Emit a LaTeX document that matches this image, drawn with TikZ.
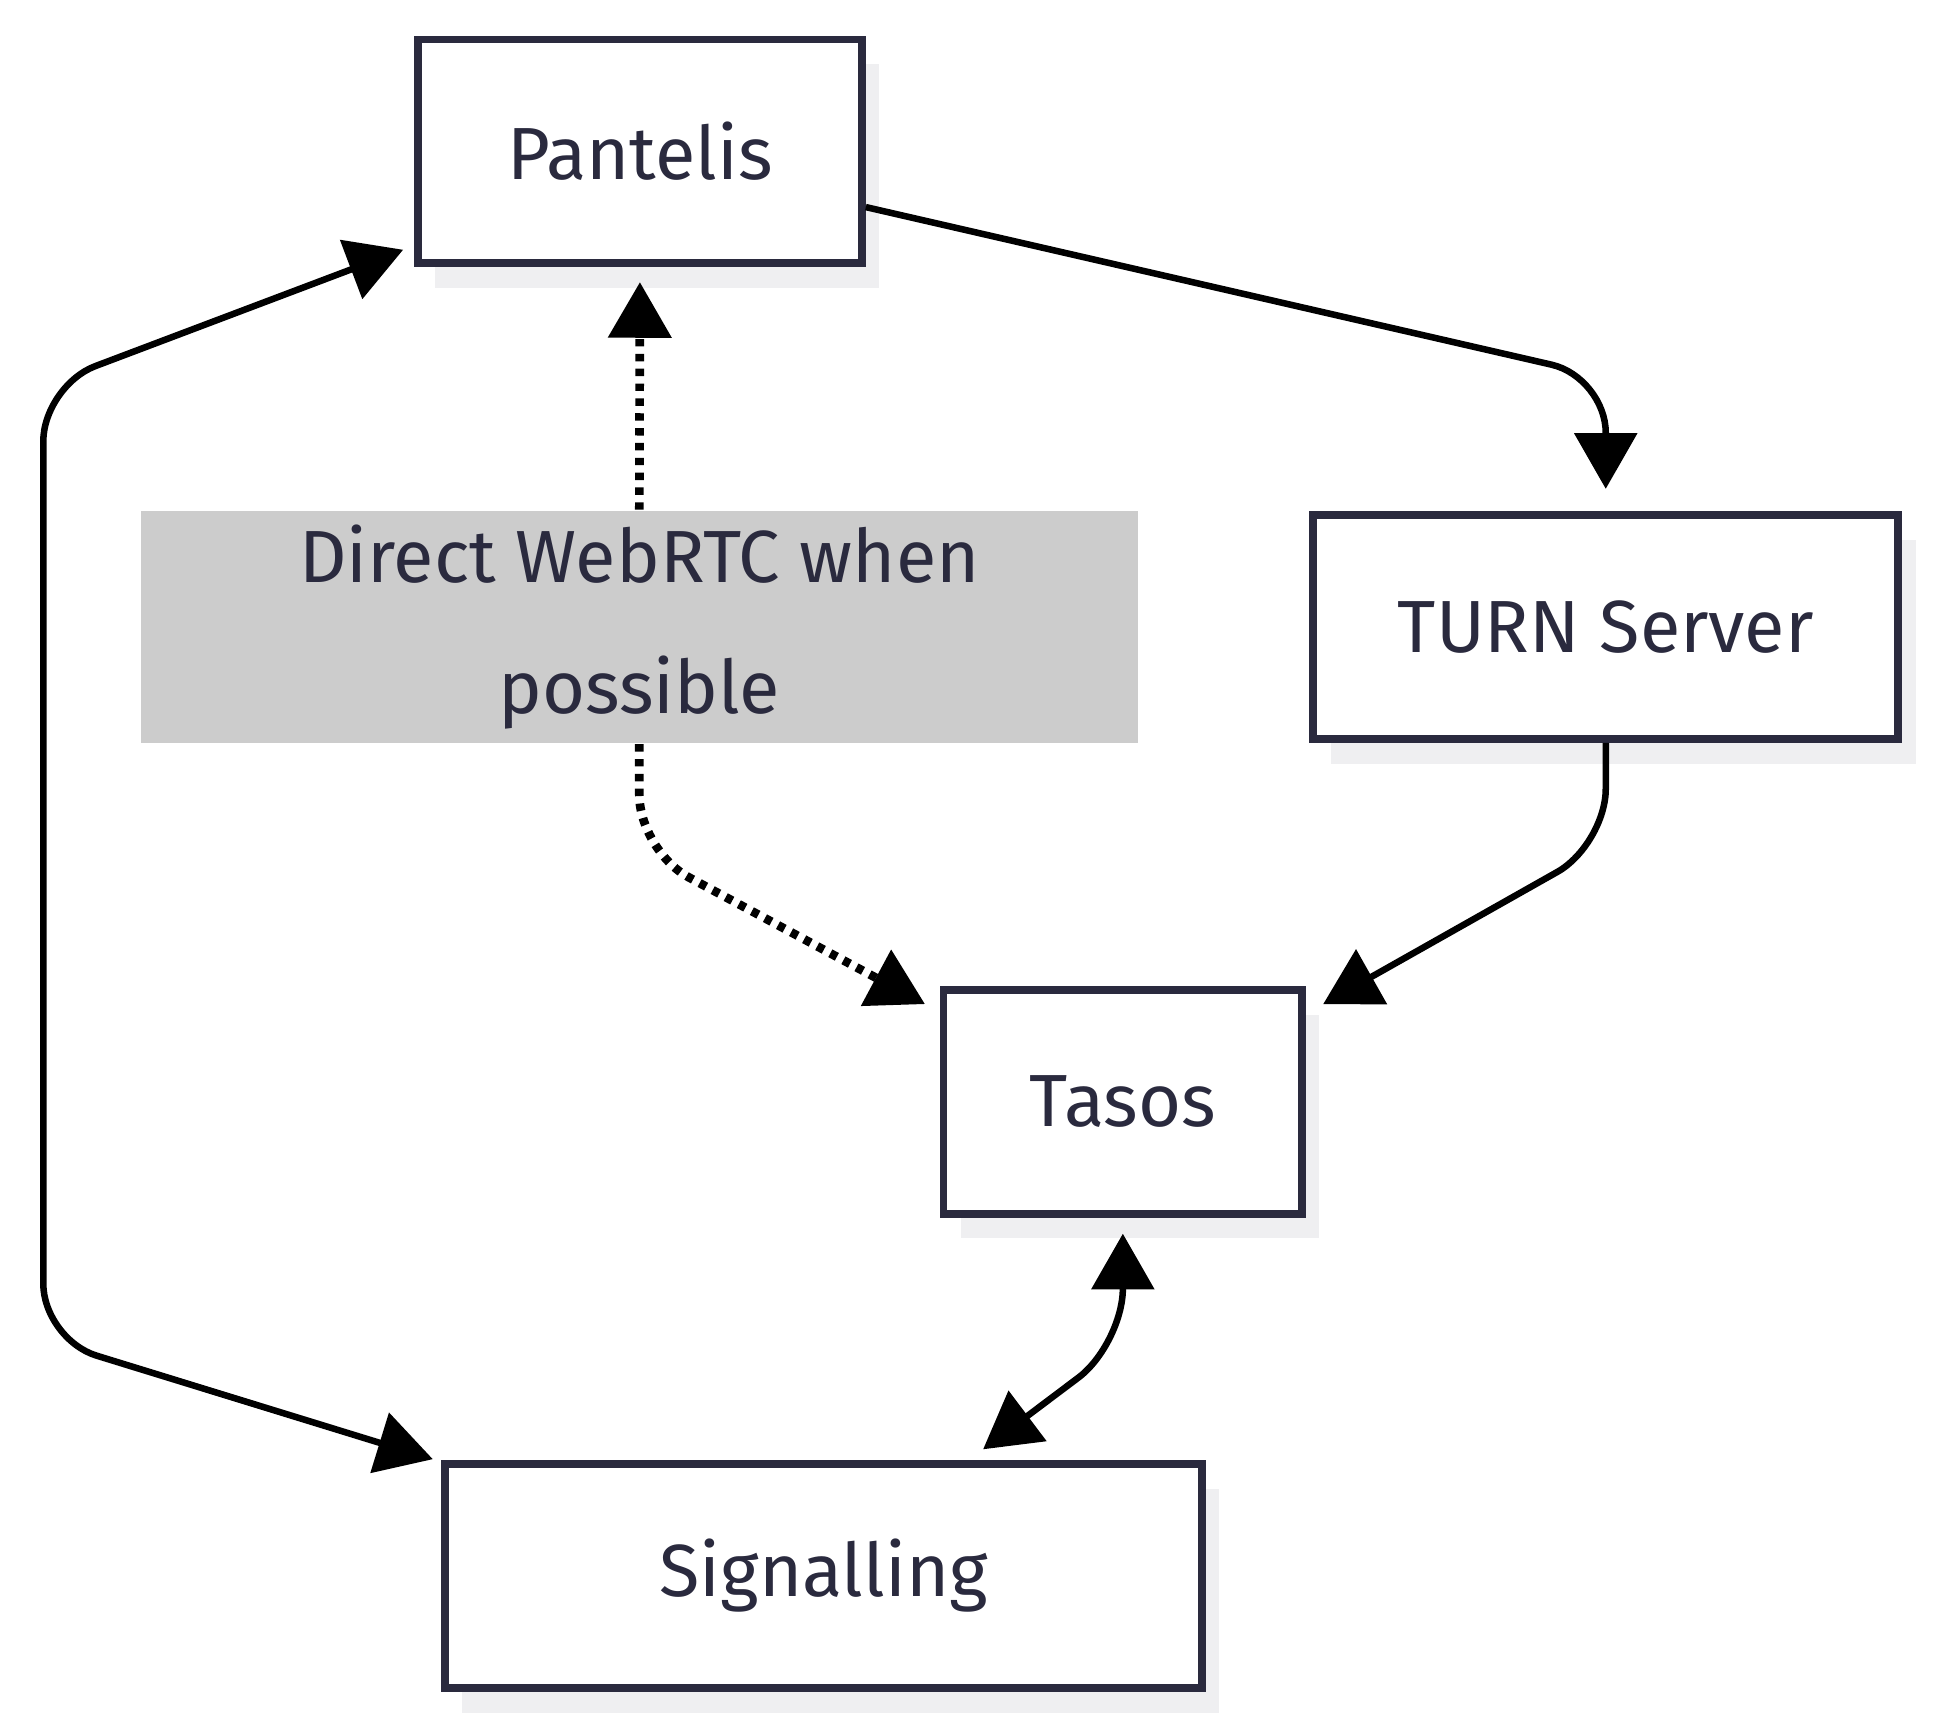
\documentclass[tikz,border=0pt]{standalone}
\usepackage{fontspec}
\setmainfont{Fira Sans}
\usetikzlibrary{arrows.meta}
\definecolor{boxline}{HTML}{2A2A3E}
\definecolor{shadow}{HTML}{EFEFF1}
\definecolor{labelgray}{HTML}{CCCCCC}
\tikzset{
        peer/.style = {draw=boxline, line width=1.8pt, fill=white, text=boxline,
            font=\fontsize{17}{30}\selectfont, minimum height=1.81cm,
            preaction={fill=shadow, draw=none, transform canvas={xshift=0.14cm, yshift=-0.2cm}}},
        link/.style = {line width=1.5pt, rounded corners=0.45cm, -{Triangle[length=0.45cm, width=0.5cm]}},
        twoway/.style = {link, {Triangle[length=0.45cm, width=0.5cm]}-{Triangle[length=0.45cm, width=0.5cm]}},
        dots/.style = {link, line width=2pt, dash pattern=on 0.06cm off 0.06cm}
    }
\begin{document}
\begin{tikzpicture}
            \useasboundingbox (0,0) rectangle (15.68,13.98);

            \node[peer, minimum width=3.59cm] (pantelis) at (5.175,12.755) {Pantelis};
            \node[peer, minimum width=4.73cm] (turn) at (12.985,8.91) {TURN Server};
            \node[peer, minimum width=2.90cm] (tasos) at (9.08,5.07) {Tasos};
            \node[peer, minimum width=6.12cm] (signal) at (6.66,1.235) {Signalling};
            \node[fill=labelgray, text=boxline, minimum width=8.06cm, minimum height=1.68cm,
                align=center, font=\fontsize{17}{30}\selectfont] (direct) at (5.17,8.91) {Direct WebRTC when\\possible};

            % relay path
            \draw[link, shorten >=0.18cm] ([yshift=-0.45cm]pantelis.east) -- (12.985,10.93) -- (turn.north);
            \coordinate (tasosin) at (10.70,5.86);
            \draw[link] (turn.south) -- (12.985,7.15) -- (tasosin);

            % direct path
            \draw[dots, shorten >=0.12cm] (direct.north) -- (pantelis.south);
            \coordinate (tasosdirect) at (7.48,5.86);
            \draw[dots] (direct.south) -- (5.17,7.1) -- (tasosdirect);

            % signalling
            \coordinate (pantelisin) at (3.26,11.96);
            \coordinate (signalin) at (3.5,2.18);
            \draw[twoway] (pantelisin) -- (0.35,10.86) -- (0.35,3.15) -- (signalin);
            \coordinate (signalout) at (7.95,2.26);
            \draw[twoway, shorten <=0.13cm] (tasos.south) -- (9.08,3.11) -- (signalout);

        \end{tikzpicture}
\end{document}
